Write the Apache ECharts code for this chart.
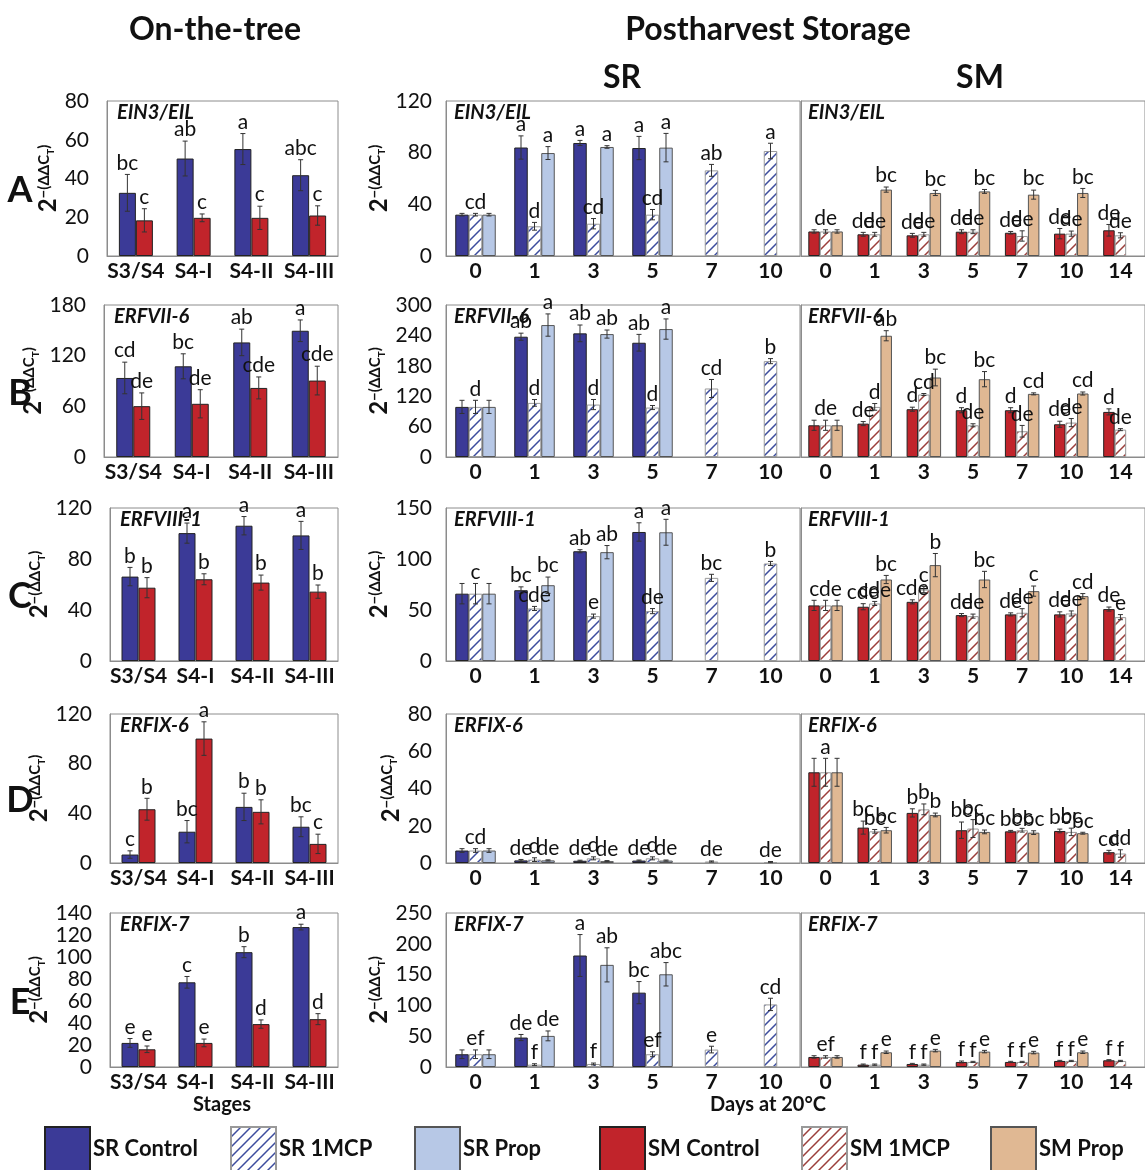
<!DOCTYPE html>
<html>
<head>
<meta charset="utf-8">
<script src="https://cdn.jsdelivr.net/npm/echarts@6/dist/echarts.min.js"></script>
<style>
  html, body { margin: 0; padding: 0; background: #fff; }
  #chart { width: 1145px; height: 1170px; }
</style>
</head>
<body>
<div id="chart"></div>
<script>
// categories
const stages = ["S3/S4", "S4-I", "S4-II", "S4-III"];
const srDays = ["0", "1", "3", "5", "7", "10"];
const smDays = ["0", "1", "3", "5", "7", "10", "14"];
const genes = ["EIN3/EIL", "ERFVII-6", "ERFVIII-1", "ERFIX-6", "ERFIX-7"];
const rowLetters = ["A", "B", "C", "D", "E"];
const treeNames = ["SR Control", "SM Control"];
const srNames = ["SR Control", "SR 1MCP", "SR Prop"];
const smNames = ["SM Control", "SM 1MCP", "SM Prop"];

// y axis ranges [max, step] per row: tree, SR/SM storage
const treeMax = [[80, 20], [180, 60], [120, 40], [120, 40], [140, 20]];
const storeMax = [[120, 40], [300, 60], [150, 50], [80, 20], [250, 50]];

// EIN3/EIL
const ein3TreeVal = [[32.6, 50.3, 55.2, 41.7], [18.4, 19.7, 19.7, 20.9]];
const ein3TreeErr = [[9.5, 9, 8, 8], [6, 2, 6, 5]];
const ein3TreeLet = [["bc", "ab", "a", "abc"], ["c", "c", "c", "c"]];
const ein3SrVal = [[32, 84, 87.5, 83.6, null, null], [32, 23, 25, 32, 66.3, 81.3], [32, 79.7, 84.4, 83.9, null, null]];
const ein3SrErr = [[1, 9, 2, 9], [1, 3, 4, 4, 4.6, 6], [1, 5, 1, 11]];
const ein3SrLet = [["", "a", "a", "a"], ["cd", "d", "cd", "cd", "ab", "a"], ["", "a", "a", "a"]];
const ein3SmVal = [[19, 16.8, 16, 18.8, 18, 17.3, 19.9], [19, 16.8, 16.8, 18.8, 15.5, 17.3, 16], [19, 51.4, 48.8, 50, 47.5, 48.8, null]];
const ein3SmErr = [[1.3, 1.5, 1.5, 1.5, 1, 4, 4.5], [1.3, 1.5, 1.5, 1.5, 4, 2, 2], [1.3, 2, 2, 1.5, 3.5, 3.5]];
const ein3SmLet = [["", "de", "de", "de", "de", "de", "de"], ["de", "de", "de", "de", "de", "de", "de"], ["", "bc", "bc", "bc", "bc", "bc"]];

// ERFVII-6
const vii6TreeVal = [[93.6, 107.4, 135.7, 149.5], [60.2, 63, 81.8, 90.5]];
const vii6TreeErr = [[18.7, 14.8, 15.7, 12.8], [15.7, 16.7, 13, 17]];
const vii6TreeLet = [["cd", "bc", "ab", "a"], ["de", "de", "cde", "cde"]];
const vii6SrVal = [[98.9, 237.4, 244, 225.5, null, null], [98.9, 106.8, 103.5, 97.6, 135.2, 189.2], [98.9, 260.4, 242.6, 252.5, null, null]];
const vii6SrErr = [[13, 7, 16.5, 16.5], [13, 6.6, 10, 4, 17.8, 5], [13, 22, 8, 20]];
const vii6SrLet = [["", "ab", "ab", "ab"], ["d", "d", "d", "d", "cd", "b"], ["", "a", "ab", "a"]];
const vii6SmVal = [[62.6, 65.9, 94.3, 92.3, 92.3, 64.6, 89], [62.6, 98.9, 123.3, 62.6, 50.8, 67.9, 54], [62.6, 239.3, 156.9, 153.6, 124.6, 125.3, null]];
const vii6SmErr = [[10, 4, 4, 5, 5, 6, 6], [10, 6.6, 2, 3, 11.5, 8, 2], [10, 10, 16.5, 15, 2, 3]];
const vii6SmLet = [["", "de", "d", "d", "d", "de", "d"], ["de", "d", "cd", "de", "de", "de", "de"], ["", "ab", "bc", "bc", "cd", "cd"]];

// ERFVIII-1
const viii1TreeVal = [[66.2, 100.3, 106.1, 98.5], [57.5, 64.1, 61.5, 54.4]];
const viii1TreeErr = [[7.2, 7.9, 7.2, 11], [7.9, 4.3, 5.9, 5.2]];
const viii1TreeLet = [["b", "a", "a", "a"], ["b", "b", "b", "b"]];
const viii1SrVal = [[66, 69.4, 107.6, 126.5, null, null], [66, 51.5, 44, 48.9, 81.5, 95.6], [66, 74.3, 106.7, 126.2, null, null]];
const viii1SrErr = [[10, 3.3, 1.5, 9], [10, 2, 2, 2.5, 3.5, 2], [10, 8, 6.5, 12.7]];
const viii1SrLet = [["", "bc", "ab", "a"], ["c", "cde", "e", "de", "bc", "b"], ["", "bc", "ab", "a"]];
const viii1SmVal = [[54.5, 53.2, 58, 45, 45.7, 45.7, 50.9], [54.5, 56.4, 70, 44, 47.3, 46.6, 43], [54.5, 79.9, 94, 79.9, 68.5, 63.6, null]];
const viii1SmErr = [[5, 3, 2, 1.5, 1.5, 2.5, 2], [5, 2, 3, 2, 4, 2.5, 2.5], [5, 4, 11.4, 8, 5, 2.5]];
const viii1SmLet = [["", "cde", "cde", "de", "de", "de", "de"], ["cde", "cde", "c", "de", "de", "de", "e"], ["", "bc", "b", "bc", "c", "cd"]];

// ERFIX-6
const ix6TreeVal = [[6.8, 25.2, 45.2, 29.2], [43.3, 100.2, 41.2, 15.4]];
const ix6TreeErr = [[3, 9, 11, 8], [8.8, 13.5, 9.7, 7.8]];
const ix6TreeLet = [["c", "bc", "b", "bc"], ["b", "a", "b", "c"]];
const ix6SrVal = [[6.7, 1.4, 1.2, 1.3, null, null], [6.7, 1.8, 2.5, 2.5, 0.8, 0.5], [6.7, 1.4, 1.0, 1.3, null, null]];
const ix6SrErr = [[1, 0.5, 0.3, 0.3], [1, 1, 0.8, 0.8, 0.3, 0.3], [1, 0.3, 0.3, 0.3]];
const ix6SrLet = [["", "de", "de", "de"], ["cd", "d", "d", "d", "de", "de"], ["", "de", "de", "de"]];
const ix6SmVal = [[48.7, 19, 26.9, 17.6, 17, 17.2, 5.8], [48.7, 17, 28.8, 18.5, 17.6, 16.7, 5.1], [48.7, 17.6, 25.8, 16.7, 16.3, 16, null]];
const ix6SmErr = [[7.5, 3.5, 2.2, 4.4, 0.5, 1, 1], [7.5, 1, 2.9, 4.8, 1, 2, 2], [7.5, 1.5, 1, 1, 1, 0.5]];
const ix6SmLet = [["", "bc", "b", "bc", "bc", "bc", "cd"], ["a", "bc", "b", "bc", "bc", "bc", "cd"], ["", "bc", "b", "bc", "bc", "bc"]];

// ERFIX-7
const ix7TreeVal = [[21.9, 77, 104.4, 127.2], [16.1, 21.9, 39, 43.5]];
const ix7TreeErr = [[4, 5.3, 5, 2.6], [3, 3.5, 3.8, 5]];
const ix7TreeLet = [["e", "c", "b", "a"], ["e", "e", "d", "d"]];
const ix7SrVal = [[20.7, 47.8, 181, 120.7, null, null], [20.7, 3.8, 4.9, 20.7, 28.3, 101.6], [20.7, 50.5, 165.8, 150.5, null, null]];
const ix7SrErr = [[7, 5, 34, 18], [7, 1.5, 1.5, 4, 5.4, 10], [7, 8, 27.7, 19]];
const ix7SrLet = [["", "de", "a", "bc"], ["ef", "f", "f", "ef", "e", "cd"], ["", "de", "ab", "abc"]];
const ix7SmVal = [[16.3, 3.8, 4.9, 8.2, 8.2, 9.8, 10.9], [16.3, 3.8, 3.8, 8.2, 8.2, 9.8, 9.8], [16.3, 23.9, 26.6, 25, 23.4, 23.9, null]];
const ix7SmErr = [[2, 1, 1, 1.5, 1, 1, 1], [2, 1, 1, 1, 1, 1, 1], [2, 2, 2, 2, 2, 2]];
const ix7SmLet = [["", "f", "f", "f", "f", "f", "f"], ["ef", "f", "f", "f", "f", "f", "f"], ["", "e", "e", "e", "e", "e"]];

const treeData = [
  [ein3TreeVal, ein3TreeErr, ein3TreeLet],
  [vii6TreeVal, vii6TreeErr, vii6TreeLet],
  [viii1TreeVal, viii1TreeErr, viii1TreeLet],
  [ix6TreeVal, ix6TreeErr, ix6TreeLet],
  [ix7TreeVal, ix7TreeErr, ix7TreeLet],
];
const srData = [
  [ein3SrVal, ein3SrErr, ein3SrLet],
  [vii6SrVal, vii6SrErr, vii6SrLet],
  [viii1SrVal, viii1SrErr, viii1SrLet],
  [ix6SrVal, ix6SrErr, ix6SrLet],
  [ix7SrVal, ix7SrErr, ix7SrLet],
];
const smData = [
  [ein3SmVal, ein3SmErr, ein3SmLet],
  [vii6SmVal, vii6SmErr, vii6SmLet],
  [viii1SmVal, viii1SmErr, viii1SmLet],
  [ix6SmVal, ix6SmErr, ix6SmLet],
  [ix7SmVal, ix7SmErr, ix7SmLet],
];

// layout (pixels)
const rowTop = [101, 305, 508, 714, 913];
const rowZero = [256, 457, 661, 863, 1067];
const treeLeft = [107, 104, 110, 110, 110];
const treeRight = 338;
const srLeft = 446, srWidth = 354;
const smLeft = 801, smWidth = 349;

const FONT = 'Lato, "DejaVu Sans", sans-serif';
const AXIS_GREY = "#8c8c8c";

function hatch(color) {
  const s = 10;
  const c = document.createElement("canvas");
  c.width = s; c.height = s;
  const ctx = c.getContext("2d");
  ctx.fillStyle = "#fff";
  ctx.fillRect(0, 0, s, s);
  ctx.strokeStyle = color;
  ctx.lineWidth = 1.5;
  ctx.beginPath();
  ctx.moveTo(0, s); ctx.lineTo(s, 0);
  ctx.moveTo(-s / 2, s / 2); ctx.lineTo(s / 2, -s / 2);
  ctx.moveTo(s / 2, s * 1.5); ctx.lineTo(s * 1.5, s / 2);
  ctx.stroke();
  return c;
}

const styles = {
  "SR Control": { color: "#3b3a97", borderColor: "#222" },
  "SR 1MCP": { color: { image: hatch("#3d4d9e"), repeat: "repeat" }, borderColor: "#999" },
  "SR Prop": { color: "#b7c8e6", borderColor: "#555" },
  "SM Control": { color: "#c1242b", borderColor: "#222" },
  "SM 1MCP": { color: { image: hatch("#9b3f3c"), repeat: "repeat" }, borderColor: "#999" },
  "SM Prop": { color: "#e0b893", borderColor: "#555" },
};

const yName = "{a|2}{b|−(ΔΔC}{c|T}{b|)}";
const yRich = {
  a: { fontSize: 24, fontWeight: "bold", fontFamily: FONT, color: "#111", verticalAlign: "bottom" },
  b: { fontSize: 15, fontWeight: "bold", fontFamily: FONT, color: "#111", verticalAlign: "top" },
  c: { fontSize: 10, fontWeight: "bold", fontFamily: FONT, color: "#111", verticalAlign: "top", padding: [9, 0, 0, 0] },
};

let grid = [], xAxis = [], yAxis = [], series = [], graphic = [];

function addPanel(o) {
  const g = grid.length;
  grid.push({
    left: o.left, top: o.top, width: o.width, height: o.height,
    show: true, borderColor: AXIS_GREY, borderWidth: 1,
  });
  xAxis.push({
    type: "category", gridIndex: g, data: o.cats,
    axisLine: { lineStyle: { color: AXIS_GREY } },
    axisTick: { length: 5, lineStyle: { color: AXIS_GREY } },
    axisLabel: { color: "#111", fontFamily: FONT, fontWeight: "bold", fontSize: 21, margin: 5, interval: 0 },
  });
  yAxis.push({
    type: "value", gridIndex: g, min: 0, max: o.max, interval: o.step,
    splitLine: { show: false },
    axisLine: { show: true, lineStyle: { color: AXIS_GREY } },
    axisTick: { show: false },
    axisLabel: { show: o.showY, color: "#111", fontFamily: FONT, fontSize: 21, margin: o.labelMargin },
    name: o.showY ? yName : "",
    nameLocation: "middle", nameRotate: 90, nameGap: o.nameGap,
    nameTextStyle: { rich: yRich },
  });
  const n = o.names.length;
  o.names.forEach((name, i) => {
    series.push({
      type: "bar", name, xAxisIndex: g, yAxisIndex: g,
      data: o.vals[i], barWidth: o.barW, barGap: "0%",
      itemStyle: Object.assign({ borderWidth: 1 }, styles[name]),
    });
  });
  o.names.forEach((name, i) => {
    const off = (i - (n - 1) / 2) * o.barW;
    const rows = [];
    o.vals[i].forEach((v, k) => {
      if (v != null) rows.push([k, v, o.errs[i][k] || 0]);
    });
    const lets = o.lets[i];
    series.push({
      type: "custom", xAxisIndex: g, yAxisIndex: g, clip: false, z: 4, silent: true,
      data: rows,
      encode: { x: 0, y: 1 },
      renderItem: (p, api) => {
        const r = rows[p.dataIndex];
        const k = r[0], v = r[1], e = r[2];
        const x = api.coord([k, v])[0] + off;
        const yt = api.coord([k, v + e])[1];
        const yb = api.coord([k, Math.max(0, v - e)])[1];
        const children = [];
        if (e > 0) {
          const ls = { stroke: "#333", lineWidth: 1 };
          children.push({ type: "line", shape: { x1: x, y1: yt, x2: x, y2: yb }, style: ls });
          children.push({ type: "line", shape: { x1: x - 2.5, y1: yt, x2: x + 2.5, y2: yt }, style: ls });
          children.push({ type: "line", shape: { x1: x - 2.5, y1: yb, x2: x + 2.5, y2: yb }, style: ls });
        }
        const t = lets[k];
        if (t) {
          children.push({
            type: "text",
            style: {
              text: t, x: x, y: yt - 1, align: "center", verticalAlign: "bottom",
              fontSize: 21, fontFamily: FONT, fill: "#111",
            },
          });
        }
        return { type: "group", children };
      },
    });
  });
}

function text(str, x, y, font, align) {
  graphic.push({
    type: "text", x: x, y: y, z: 10, silent: true,
    style: { text: str, font: font, fill: "#111", align: align || "center", verticalAlign: "middle" },
  });
}

for (let r = 0; r < 5; r++) {
  const top = rowTop[r], h = rowZero[r] - rowTop[r];
  addPanel({
    left: treeLeft[r], top, width: treeRight - treeLeft[r], height: h,
    cats: stages, max: treeMax[r][0], step: treeMax[r][1], names: treeNames,
    vals: treeData[r][0], errs: treeData[r][1], lets: treeData[r][2],
    barW: 17, showY: true, labelMargin: 18, nameGap: 46,
  });
  addPanel({
    left: srLeft, top, width: srWidth, height: h,
    cats: srDays, max: storeMax[r][0], step: storeMax[r][1], names: srNames,
    vals: srData[r][0], errs: srData[r][1], lets: srData[r][2],
    barW: 13.5, showY: true, labelMargin: 14, nameGap: 38,
  });
  addPanel({
    left: smLeft, top, width: smWidth, height: h,
    cats: smDays, max: storeMax[r][0], step: storeMax[r][1], names: smNames,
    vals: smData[r][0], errs: smData[r][1], lets: smData[r][2],
    barW: 11.5, showY: false, labelMargin: 14, nameGap: 38,
  });
  const gf = "italic bold 20px " + FONT;
  text(genes[r], treeLeft[r] + 10, top + 12, gf, "left");
  text(genes[r], srLeft + 8, top + 12, gf, "left");
  text(genes[r], smLeft + 7, top + 12, gf, "left");
  text(rowLetters[r], 20, (top + rowZero[r]) / 2 + 12, "bold 36px " + FONT);
}

text("On-the-tree", 215, 30, "bold 32px " + FONT);
text("Postharvest Storage", 768, 30, "bold 32px " + FONT);
text("SR", 622, 78, "bold 32px " + FONT);
text("SM", 980, 78, "bold 32px " + FONT);
text("Stages", 222, 1105, "bold 20px " + FONT);
text("Days at 20°C", 768, 1105, "bold 20px " + FONT);

const legendNames = ["SR Control", "SR 1MCP", "SR Prop", "SM Control", "SM 1MCP", "SM Prop"];
const legendLeft = [44, 230, 414, 599, 801, 990];
const legend = legendNames.map((nm, i) => ({
  data: [nm], left: legendLeft[i], top: 1126, padding: 0,
  icon: "rect", itemWidth: 45, itemHeight: 44, selectedMode: false,
  textStyle: { fontSize: 22, fontWeight: "bold", fontFamily: FONT, color: "#111", padding: [0, 0, 0, -2] },
}));

const chart = echarts.init(document.getElementById("chart"));
chart.setOption({
  animation: false,
  backgroundColor: "#fff",
  grid, xAxis, yAxis, series, legend, graphic,
});
</script>
</body>
</html>
